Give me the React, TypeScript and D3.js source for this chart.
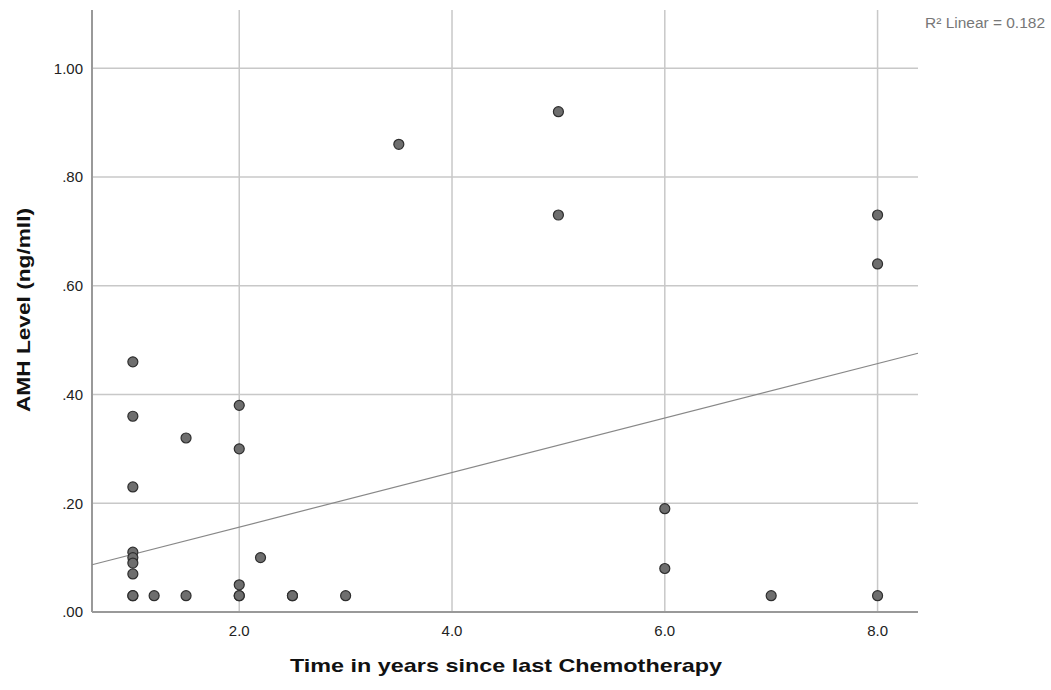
import React, { useEffect, useRef } from 'react';
import * as d3 from 'd3';

// values
const timeYears = [1, 1, 1, 1, 1, 1, 1, 1, 1, 1.2, 1.5, 1.5, 2, 2, 2, 2, 2, 2.2, 2.5, 2.5, 3, 3.5, 5, 5, 6, 6, 7, 8, 8, 8];
const amhLevel = [0.46, 0.36, 0.23, 0.11, 0.10, 0.09, 0.07, 0.03, 0.03, 0.03, 0.32, 0.03, 0.38, 0.30, 0.05, 0.03, 0.03, 0.10, 0.03, 0.03, 0.03, 0.86, 0.92, 0.73, 0.19, 0.08, 0.03, 0.73, 0.64, 0.03];
const xTicks = [2, 4, 6, 8];
const yTicks = [0, 0.2, 0.4, 0.6, 0.8, 1.0];
const fitIntercept = 0.056;
const fitSlope = 0.0501;
const rSquared = 0.182;

const W = 1051;
const H = 690;

export default function App() {
  const ref = useRef<SVGSVGElement>(null);

  useEffect(() => {
    if (!ref.current) return;
    const svg = d3.select(ref.current);
    svg.selectAll('*').remove();

    const left = 92, right = 918, top = 10, bottom = 612;
    const x = d3.scaleLinear().domain([0.616, 8.38]).range([left, right]);
    const y = d3.scaleLinear().domain([0, 1.107]).range([bottom, top]);

    const font = '"Liberation Sans", Arial, sans-serif';

    // grid
    svg.append('g').selectAll('line').data(yTicks.slice(1)).enter().append('line')
      .attr('x1', left).attr('x2', right)
      .attr('y1', d => y(d)).attr('y2', d => y(d))
      .attr('stroke', '#c8c8c8').attr('stroke-width', 1.5);
    svg.append('g').selectAll('line').data(xTicks).enter().append('line')
      .attr('x1', d => x(d)).attr('x2', d => x(d))
      .attr('y1', top).attr('y2', bottom)
      .attr('stroke', '#c8c8c8').attr('stroke-width', 1.5);

    // axes lines
    svg.append('line').attr('x1', left).attr('x2', left).attr('y1', top).attr('y2', bottom)
      .attr('stroke', '#999').attr('stroke-width', 2);
    svg.append('line').attr('x1', left).attr('x2', right).attr('y1', bottom).attr('y2', bottom)
      .attr('stroke', '#999').attr('stroke-width', 2);

    // tick labels
    svg.append('g').selectAll('text').data(yTicks).enter().append('text')
      .attr('x', left - 9).attr('y', d => y(d)).attr('dy', '0.36em')
      .attr('text-anchor', 'end')
      .style('font-family', font).style('font-size', '15px').style('fill', '#222')
      .text(d => d === 1 ? '1.00' : d3.format('.2f')(d).replace(/^0/, ''));
    svg.append('g').selectAll('text').data(xTicks).enter().append('text')
      .attr('x', d => x(d)).attr('y', bottom + 24)
      .attr('text-anchor', 'middle')
      .style('font-family', font).style('font-size', '15px').style('fill', '#222')
      .text(d => d3.format('.1f')(d));

    // fit line
    const [d0, d1] = x.domain();
    svg.append('line')
      .attr('x1', x(d0)).attr('y1', y(fitIntercept + fitSlope * d0))
      .attr('x2', x(d1)).attr('y2', y(fitIntercept + fitSlope * d1))
      .attr('stroke', '#888').attr('stroke-width', 1.2);

    // points
    svg.append('g').selectAll('circle').data(timeYears.map((t, i) => [t, amhLevel[i]])).enter()
      .append('circle')
      .attr('cx', d => x(d[0])).attr('cy', d => y(d[1])).attr('r', 5)
      .attr('fill', '#6e6e6e').attr('stroke', '#2e2e2e').attr('stroke-width', 1.2);

    // titles
    svg.append('text')
      .attr('x', 290).attr('y', 672)
      .attr('textLength', 432).attr('lengthAdjust', 'spacingAndGlyphs')
      .style('font-family', font).style('font-size', '19px').style('font-weight', 'bold').style('fill', '#111')
      .text('Time in years since last Chemotherapy');
    svg.append('text')
      .attr('transform', `translate(30, 412) rotate(-90)`)
      .attr('textLength', 204).attr('lengthAdjust', 'spacingAndGlyphs')
      .style('font-family', font).style('font-size', '19px').style('font-weight', 'bold').style('fill', '#111')
      .text('AMH Level (ng/mll)');

    svg.append('text')
      .attr('x', 925).attr('y', 28)
      .attr('textLength', 120).attr('lengthAdjust', 'spacingAndGlyphs')
      .style('font-family', font).style('font-size', '14px').style('fill', '#777')
      .text(`R² Linear = ${rSquared}`);
  }, []);

  return (
    <svg ref={ref} width={W} height={H}
      style={{ position: 'absolute', left: 0, top: 0, background: '#fff' }} />
  );
}
